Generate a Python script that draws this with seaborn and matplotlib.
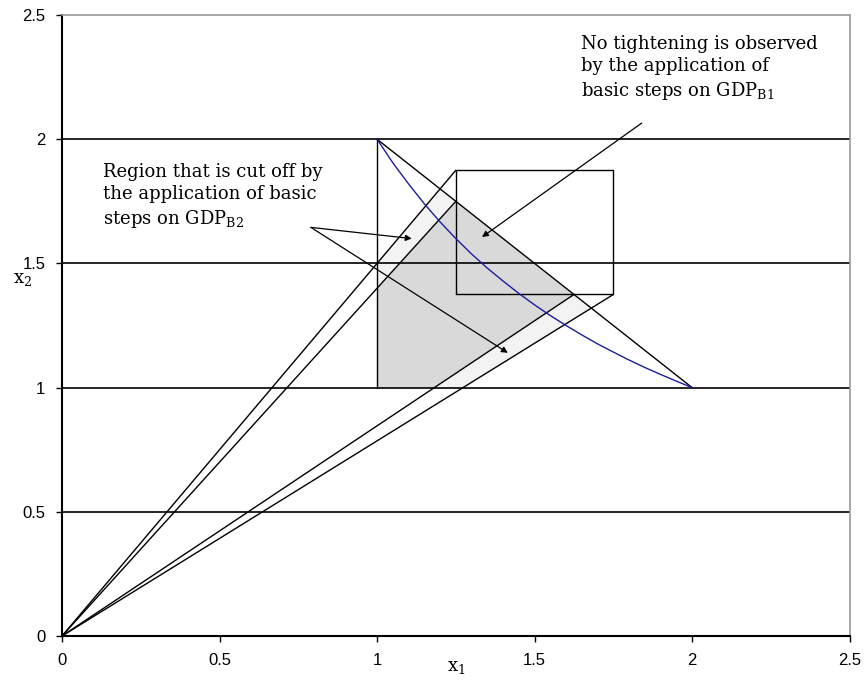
import numpy as np
import pandas as pd
import seaborn as sns
import matplotlib.pyplot as plt

# values
ticks = [0, 0.5, 1, 1.5, 2, 2.5]
tick_labels = ['0', '0.5', '1', '1.5', '2', '2.5']
grid_levels = [0.5, 1, 1.5, 2]

# blue curve (read point by point)
curve_x = [1.0, 1.05, 1.1, 1.15, 1.2, 1.25, 1.3, 1.35, 1.4, 1.45, 1.5, 1.55, 1.6,
           1.65, 1.7, 1.75, 1.8, 1.85, 1.9, 1.95, 2.0]
curve_y = [2.0, 1.905, 1.82, 1.74, 1.667, 1.6, 1.538, 1.481, 1.429, 1.379, 1.333, 1.29, 1.25,
           1.212, 1.176, 1.143, 1.111, 1.081, 1.053, 1.026, 1.0]

# straight segments
diag_x = [1.0, 2.0]
diag_y = [2.0, 1.0]
left_x = [1.0, 1.0]
left_y = [1.0, 2.0]

# box
box_x = [1.25, 1.75, 1.75, 1.25, 1.25]
box_y = [1.375, 1.375, 1.875, 1.875, 1.375]

# rays from the origin: end points
ray_end_x = [1.25, 1.25, 1.625, 1.75]
ray_end_y = [1.875, 1.75, 1.375, 1.375]

# shaded regions
dark_x = [1.0, 1.182, 1.625, 1.25, 1.0]
dark_y = [1.0, 1.0, 1.375, 1.75, 1.4]
light_up_x = [1.0, 1.25, 1.2, 1.0]
light_up_y = [1.4, 1.75, 1.8, 1.5]
light_lo_x = [1.182, 1.273, 1.68, 1.625]
light_lo_y = [1.0, 1.0, 1.32, 1.375]

sns.set_theme(style='white')
plt.rcParams['font.family'] = ['Liberation Sans', 'DejaVu Sans']
plt.rcParams['mathtext.fontset'] = 'dejavuserif'
plt.rcParams['text.color'] = 'black'
plt.rcParams['xtick.color'] = 'black'
plt.rcParams['ytick.color'] = 'black'
plt.rcParams['axes.labelcolor'] = 'black'

fig = plt.figure(figsize=(8.67, 6.82), dpi=100)
ax = fig.add_axes([0.0715, 0.0674, 0.9085, 0.9106])

ax.fill(dark_x, dark_y, color='#d9d9d9', lw=0, zorder=1)
ax.fill(light_up_x, light_up_y, color='#f3f3f3', lw=0, zorder=1)
ax.fill(light_lo_x, light_lo_y, color='#f3f3f3', lw=0, zorder=1)

for g in grid_levels:
    ax.axhline(g, color='black', lw=1.2, zorder=2)

seg = dict(color='black', lw=1.0, zorder=3, legend=False, sort=False, estimator=None, errorbar=None)
sns.lineplot(x=diag_x, y=diag_y, ax=ax, **seg)
sns.lineplot(x=left_x, y=left_y, ax=ax, **seg)
sns.lineplot(x=box_x, y=box_y, ax=ax, **seg)
for ex, ey in zip(ray_end_x, ray_end_y):
    sns.lineplot(x=[0, ex], y=[0, ey], ax=ax, **seg)
sns.lineplot(x=curve_x, y=curve_y, ax=ax, sort=False, estimator=None, errorbar=None,
             color='#1c1ca0', lw=1.0, zorder=4)

serif = ['DejaVu Serif']
arrow = dict(arrowstyle='-|>', color='black', lw=0.9, mutation_scale=9, shrinkA=0, shrinkB=0)
ax.text(0.13, 1.905, 'Region that is cut off by\nthe application of basic\nsteps on GDP$_{\\mathrm{B2}}$',
        family=serif, fontsize=13, color='black', va='top', ha='left', linespacing=1.3, zorder=5)
ax.annotate('', xy=(1.11, 1.60), xytext=(0.79, 1.645), arrowprops=arrow, zorder=5)
ax.annotate('', xy=(1.415, 1.14), xytext=(0.79, 1.645), arrowprops=arrow, zorder=5)

ax.text(1.648, 2.42, 'No tightening is observed\nby the application of\nbasic steps on GDP$_{\\mathrm{B1}}$',
        family=serif, fontsize=13, color='black', va='top', ha='left', linespacing=1.3, zorder=5)
ax.annotate('', xy=(1.333, 1.606), xytext=(1.84, 2.065), arrowprops=arrow, zorder=5)

ax.set_xlim(0, 2.5)
ax.set_ylim(0, 2.5)
ax.set_xticks(ticks)
ax.set_xticklabels(tick_labels, fontsize=12)
ax.set_yticks(ticks)
ax.set_yticklabels(tick_labels, fontsize=12)
ax.tick_params(axis='both', direction='out', length=4, width=1, color='black',
               labelcolor='black', bottom=True, left=True, pad=8)

ax.set_xlabel('x$_1$', family=serif, fontsize=13, color='black')
ax.set_ylabel('x$_2$', family=serif, fontsize=13, color='black', rotation=0)
ax.xaxis.set_label_coords(0.5, -0.035)
ax.yaxis.set_label_coords(-0.05, 0.56)

for s in ['left', 'bottom']:
    ax.spines[s].set_color('black')
    ax.spines[s].set_linewidth(1.5)
for s in ['top', 'right']:
    ax.spines[s].set_color('#999999')
    ax.spines[s].set_linewidth(1.2)

fig.savefig('out.png', dpi=100)
